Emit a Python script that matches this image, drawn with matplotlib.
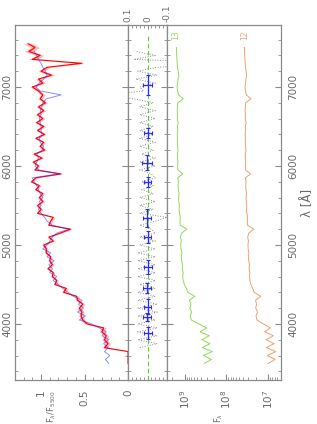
import numpy as np
import matplotlib
matplotlib.use("Agg")
import matplotlib.pyplot as plt
from matplotlib.ticker import MultipleLocator, LogLocator, NullFormatter

plt.rcParams['axes.unicode_minus'] = False
nan = np.nan

# wavelength grid (Angstrom)
wave = np.arange(3500, 7650, 50)

# model spectrum (blue), F_lambda / F_5500
blue_model = [0.22, 0.26, 0.21, 0.27, 0.23, 0.28, 0.22, 0.30, 0.25, 0.33,
              0.42, 0.56, 0.49, 0.58, 0.51, 0.57, 0.53, 0.63, 0.69, 0.75,
              0.80, 0.86, 0.82, 0.90, 0.87, 0.91, 0.85, 0.93, 0.89, 0.98,
              0.93, 0.90, 0.87, 0.82, 0.68, 0.87, 0.93, 0.96, 1.00, 1.03,
              1.00, 1.02, 0.98, 1.01, 1.03, 1.05, 1.08, 1.10, 0.79, 1.03,
              1.07, 1.05, 1.03, 1.05, 0.99, 0.97, 1.01, 1.02, 0.99, 1.00,
              1.00, 1.01, 1.02, 1.00, 1.01, 0.99, 0.98, 0.94, 0.77, 1.01,
              1.06, 1.02, 0.97, 0.93, 0.95, 0.98, 1.00, 1.03, 1.05, 1.08,
              nan, nan, nan]

# observed spectrum (red) and its error
red_obs = [0, 0, 0, 0, 0.27, 0.23, 0.27, 0.25, 0.30, 0.28,
           0.47, 0.52, 0.54, 0.53, 0.56, 0.52, 0.58, 0.59, 0.74, 0.71,
           0.84, 0.82, 0.87, 0.86, 0.92, 0.87, 0.90, 0.89, 0.94, 0.94,
           0.97, 0.86, 0.91, 0.78, 0.66, 0.91, 0.89, 0.86, 1.04, 1.00,
           1.04, 0.98, 1.02, 0.98, 1.06, 1.02, 1.11, 1.06, 0.77, 1.07,
           1.03, 1.09, 0.99, 1.08, 0.96, 1.01, 0.97, 1.06, 0.96, 1.04,
           0.97, 1.05, 0.98, 1.04, 0.97, 1.03, 0.95, 1.01, 0.98, 1.03,
           1.10, 0.98, 1.03, 0.88, 1.00, 0.93, 0.53, 1.10, 1.01, 1.14,
           1.07, 1.15, nan]

red_err = [0, 0, 0, 0, 0.03, 0.03, 0.03, 0.03, 0.03, 0.03,
           0.03, 0.025, 0.025, 0.025, 0.025, 0.025, 0.025, 0.025, 0.025, 0.025,
           0.02, 0.02, 0.02, 0.02, 0.02, 0.02, 0.02, 0.02, 0.02, 0.02,
           0.02, 0.02, 0.02, 0.02, 0.02, 0.02, 0.02, 0.02, 0.02, 0.02,
           0.02, 0.02, 0.02, 0.02, 0.02, 0.02, 0.02, 0.02, 0.02, 0.02,
           0.02, 0.02, 0.02, 0.02, 0.02, 0.02, 0.02, 0.02, 0.02, 0.02,
           0.025, 0.025, 0.025, 0.025, 0.025, 0.025, 0.025, 0.025, 0.025, 0.025,
           0.03, 0.03, 0.03, 0.035, 0.035, 0.04, 0.04, 0.045, 0.045, 0.05,
           0.05, 0.05, 0]

# binned residuals (blue crosses)
bin_wave = [7025, 6420, 6040, 5800, 5340, 5100, 4720, 4460, 4215, 4090, 3890]
bin_res = [0.0, -0.002, 0.002, 0.0, 0.001, 0.0, -0.002, 0.002, 0.0, 0.001, -0.001]
bin_res_err = [0.025, 0.02, 0.025, 0.02, 0.02, 0.02, 0.02, 0.02, 0.02, 0.02, 0.02]
bin_halfwidth = [127, 63, 95, 63, 115, 76, 89, 63, 95, 51, 76]

# components, F_lambda (green x1e8, orange x1e7)
green_flux = [3.4, 2.3, 3.6, 2.2, 3.8, 2.5, 3.9, 2.6, 4.3, 3.0,
              4.6, 7.0, 7.5, 6.9, 7.6, 7.2, 7.8, 5.8, 8.5, 9.2,
              10.3, 11.0, 11.3, 11.0, 11.6, 11.4, 11.9, 12.2, 11.8, 12.4,
              12.6, 12.2, 12.8, 12.0, 9.0, 12.9, 13.2, 12.9, 13.5, 13.8,
              13.6, 14.0, 14.2, 13.8, 14.4, 14.6, 14.3, 14.9, 11.3, 14.8,
              15.0, 14.7, 15.1, 15.0, 14.6, 14.9, 15.2, 15.0, 15.3, 14.8,
              15.1, 14.5, 15.2, 15.0, 15.3, 15.1, 14.9, 11.0, 14.2, 15.0,
              15.4, 15.0, 14.6, 14.0, 14.5, 15.0, 15.3, 15.5, 15.7, 15.9,
              16.0, nan, nan]
orange_flux = [1.0, 0.68, 1.05, 0.65, 1.1, 0.72, 1.12, 0.75, 1.22, 0.88,
               1.3, 1.85, 1.95, 1.8, 1.98, 1.9, 2.0, 1.5, 2.15, 2.35,
               2.6, 2.75, 2.8, 2.75, 2.85, 2.8, 2.92, 2.98, 2.9, 3.02,
               3.05, 2.96, 3.1, 2.92, 2.2, 3.12, 3.18, 3.1, 3.25, 3.3,
               3.25, 3.35, 3.4, 3.3, 3.42, 3.45, 3.38, 3.5, 2.65, 3.48,
               3.52, 3.45, 3.55, 3.5, 3.42, 3.48, 3.55, 3.5, 3.57, 3.46,
               3.52, 3.38, 3.55, 3.5, 3.57, 3.52, 3.47, 2.6, 3.32, 3.5,
               3.58, 3.5, 3.4, 3.28, 3.38, 3.5, 3.56, 3.6, 3.65, 3.7,
               3.72, nan, nan]
green_label = "13"
orange_label = "12"

blue = np.array(blue_model)
red = np.array(red_obs)
err = np.array(red_err)
resid = np.where(red > 0, red - blue, nan)
green = np.array(green_flux) * 1e8
orange = np.array(orange_flux) * 1e7

GREY = '#8a8a8a'
TXT = '#6a6a6a'

fig = plt.figure(figsize=(3.17, 4.24), dpi=100)
b, h = 44 / 424, 355 / 424
ax1 = fig.add_axes([15 / 317, b, 113 / 317, h])
ax2 = fig.add_axes([128 / 317, b, 39 / 317, h])
ax3 = fig.add_axes([167 / 317, b, 114 / 317, h])

for ax in (ax1, ax2, ax3):
    ax.set_ylim(3290, 7785)
    ax.yaxis.set_major_locator(MultipleLocator(1000))
    ax.yaxis.set_minor_locator(MultipleLocator(200))
    for s in ax.spines.values():
        s.set_color(GREY)
        s.set_linewidth(0.9)
    ax.tick_params(which='both', direction='in', color=GREY, labelcolor=TXT,
                   labelsize=7.5, left=True, right=True, labelleft=False,
                   labelright=False, top=False, bottom=False, labelbottom=False)
    ax.tick_params(axis='y', which='major', length=4.5, width=0.8)
    ax.tick_params(axis='y', which='minor', length=2.2, width=0.6)

# left panel: normalised spectra
ax1.fill_betweenx(wave, red - err, red + err, color='#ff8888', alpha=0.6, lw=0)
ax1.plot(red, wave, color='#ff0000', lw=0.8)
ax1.plot(blue, wave, color='#3030ff', lw=0.7, alpha=0.55)
ax1.set_xlim(1.3, 0)
ax1.set_xticks([0, 0.5, 1], ['0', '0.5', '1'])
ax1.xaxis.set_minor_locator(MultipleLocator(0.1))
ax1.tick_params(axis='x', which='both', bottom=True, labelbottom=True,
                labelrotation=90, pad=7)
ax1.tick_params(axis='x', which='major', length=4, width=0.8)
ax1.tick_params(axis='x', which='minor', length=2, width=0.6)
ax1.tick_params(axis='y', labelleft=True, labelrotation=90, pad=2)
plt.setp(ax1.get_yticklabels(), va='center')

# middle panel: residuals
ax2.axvline(0, ymax=0.97, color='#66cc33', lw=0.8, dashes=(4, 2.5))
ax2.plot(resid, wave, color='#8c8c8c', lw=0.7, ls=':')
ax2.errorbar(bin_res, bin_wave, xerr=bin_res_err, yerr=bin_halfwidth,
             fmt='none', ecolor='#2a2aff', elinewidth=0.9, capsize=1.5,
             capthick=0.8)
ax2.set_xlim(0.1, -0.1)
ax2.set_xticks([-0.1, 0, 0.1], ['-0.1', '0', '0.1'])
ax2.xaxis.set_minor_locator(MultipleLocator(0.02))
ax2.tick_params(axis='x', which='both', top=True, bottom=True,
                labeltop=True, labelrotation=90, pad=2, labelsize=6.5)
ax2.tick_params(axis='x', which='major', length=3, width=0.7)
ax2.tick_params(axis='x', which='minor', length=2, width=0.6)

# right panel: component fluxes (log)
ax3.plot(green, wave, color='#8ddc5a', lw=0.7)
ax3.plot(orange, wave, color='#f0a070', lw=0.7)
ax3.text(green[80] * 1.05, 7660, green_label, color='#8ddc5a', rotation=90,
         fontsize=5.5, ha='center', va='center')
ax3.text(orange[80], 7660, orange_label, color='#f0a070', rotation=90,
         fontsize=5.5, ha='center', va='center')
ax3.set_xscale('log')
ax3.set_xlim(10 ** 9.43, 10 ** 6.69)
ax3.xaxis.set_major_locator(LogLocator(base=10))
ax3.xaxis.set_minor_locator(LogLocator(base=10, subs=np.arange(2, 10)))
ax3.xaxis.set_minor_formatter(NullFormatter())
ax3.tick_params(axis='x', which='both', bottom=True, labelbottom=True,
                labelrotation=90, pad=7)
ax3.tick_params(axis='x', which='major', length=4, width=0.8)
ax3.tick_params(axis='x', which='minor', length=2, width=0.6)
ax3.tick_params(axis='y', labelright=True, labelrotation=90, pad=5)
plt.setp(ax3.get_yticklabels(), va='center')
ax3.yaxis.set_label_position('right')
ax3.set_ylabel('λ [Å]', color=TXT, fontsize=8.5, labelpad=2)

fig.text(52 / 317, 1 / 424, r'F$_\lambda$/F$_{5500}$', color=TXT,
         fontsize=6, rotation=90, ha='center', va='bottom')
fig.text(219 / 317, 1 / 424, r'F$_\lambda$', color=TXT,
         fontsize=6, rotation=90, ha='center', va='bottom')

fig.savefig('out.png', dpi=100)
